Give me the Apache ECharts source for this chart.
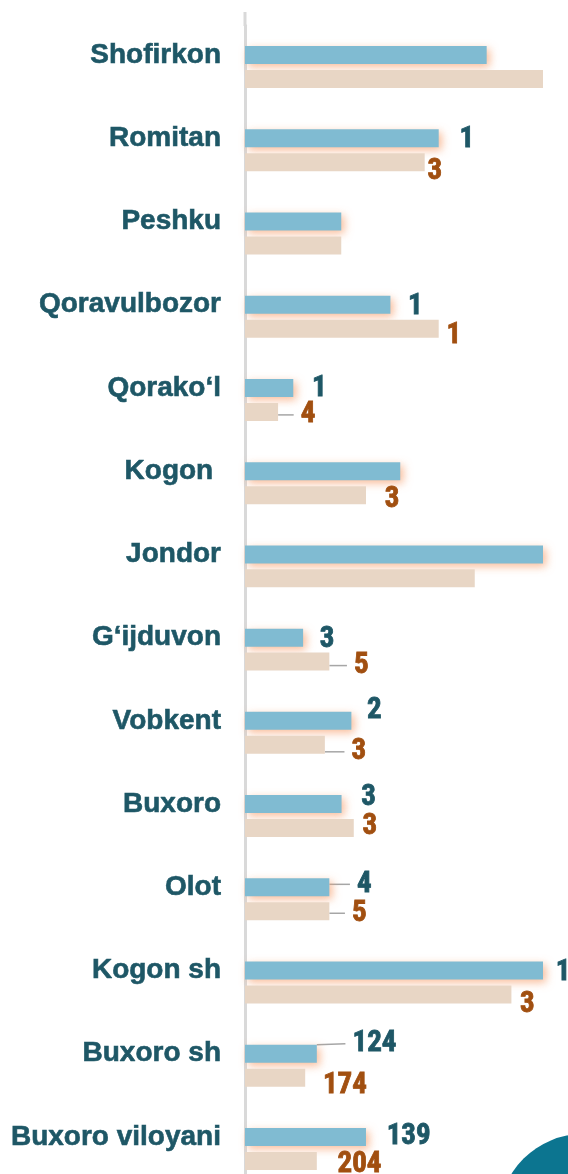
<!DOCTYPE html>
<html>
<head>
<meta charset="utf-8">
<script src="https://cdn.jsdelivr.net/npm/echarts@6/dist/echarts.min.js"></script>
<style>
  html, body { margin: 0; padding: 0; background: #ffffff; }
  #chart { width: 568px; height: 1174px; }
</style>
</head>
<body>
<div id="chart"></div>
<script>
// tumanlar (yuqoridan pastga)
var districts = ['Shofirkon', 'Romitan', 'Peshku', 'Qoravulbozor', 'Qorako\u2018l', 'Kogon ',
  'Jondor', 'G\u2018ijduvon', 'Vobkent', 'Buxoro', 'Olot', 'Kogon sh', 'Buxoro sh', 'Buxoro viloyani'];

// bar uzunliklari (eng uzuni = 100)
var blueValues = [81.1, 65.0, 32.3, 48.8, 16.2, 52.1, 100, 19.5, 35.7, 32.4, 28.3, 100, 24.1, 40.6];
var beigeValues = [100, 60.3, 32.3, 65.0, 11.1, 40.6, 77.1, 28.3, 26.8, 36.5, 28.3, 89.4, 20.2, 24.1];

// yozuvlar
var blueLabels = ['', '1', '', '1', '1', '', '', '3', '2', '3', '4', '1', '124', '139'];
var beigeLabels = ['', '3', '', '1', '4', '3', '', '5', '3', '3', '5', '3', '174', '204'];

// yozuv siljishi [dx, dy] (yozuv oldida bitta bo'sh joy bor) va chiziq
var blueShift = [[0,0],[14,1],[0,0],[11,2],[12,1],[0,0],[0,0],[10,2],[9,-10],[13,-6],[21,-3],[6,2],[29,-10],[14,0]];
var beigeShift = [[0,0],[-4,10],[0,0],[1,7],[16,3],[12,5],[0,0],[18,4],[20,7],[2,-1],[16,2],[2,10],[11,8],[14,4]];
var blueLeader = [10, 12];
var beigeLeader = [4, 7, 8, 10];

var chart = echarts.init(document.getElementById('chart'), null, { renderer: 'canvas' });

function buildData(values, leaders) {
  return values.map(function (v, i) {
    return { value: v, labelLine: { show: leaders.indexOf(i) >= 0 } };
  });
}

var numFont = '"Roboto Condensed", "Liberation Sans Narrow", Roboto, sans-serif';

var option = {
  animation: false,
  backgroundColor: '#ffffff',
  grid: { left: 245, top: 25.4, right: 25, height: 1165.2, outerBoundsMode: 'none', containLabel: false },
  xAxis: { type: 'value', min: 0, max: 100, show: false },
  yAxis: {
    type: 'category',
    data: districts,
    inverse: true,
    axisLine: { show: true, lineStyle: { color: '#d9d9d9', width: 3 } },
    axisTick: { show: false },
    axisLabel: {
      margin: 24,
      color: '#1e5766',
      fontFamily: '"Liberation Sans", Arial, sans-serif',
      fontWeight: 'bold',
      fontSize: 28,
      lineHeight: 24,
      verticalAlign: 'bottom',
      textBorderColor: '#1e5766',
      textBorderWidth: 0.6
    }
  },
  graphic: [
    { type: 'rect', shape: { x: 243.5, y: 12, width: 3, height: 14 }, style: { fill: '#d9d9d9' }, silent: true },
    { type: 'circle', shape: { cx: 583, cy: 1218, r: 84 }, style: { fill: '#0c7590' }, silent: true }
  ],
  series: [
    {
      name: 'blue',
      type: 'bar',
      barWidth: 18,
      barGap: '33%',
      data: buildData(blueValues, blueLeader),
      itemStyle: {
        color: '#80bbd2',
        shadowColor: 'rgba(246, 160, 110, 0.7)',
        shadowBlur: 9,
        shadowOffsetX: 3,
        shadowOffsetY: 3
      },
      label: {
        show: true,
        position: 'right',
        distance: 0,
        color: '#1e5766',
        fontFamily: numFont,
        fontWeight: 'bold',
        fontSize: 29,
        textBorderColor: '#1e5766',
        textBorderWidth: 0.8,
        formatter: function (p) { var t = blueLabels[p.dataIndex]; return t ? ' ' + t : ''; }
      },
      labelLine: { lineStyle: { color: '#a6a6a6', width: 1.5 } },
      labelLayout: function (p) {
        var s = blueShift[p.dataIndex];
        return { dx: s[0], dy: s[1] };
      }
    },
    {
      name: 'beige',
      type: 'bar',
      barWidth: 18,
      barGap: '33%',
      data: buildData(beigeValues, beigeLeader),
      itemStyle: { color: '#e8d6c5' },
      label: {
        show: true,
        position: 'right',
        distance: 0,
        color: '#a14f10',
        fontFamily: numFont,
        fontWeight: 'bold',
        fontSize: 29,
        textBorderColor: '#a14f10',
        textBorderWidth: 0.8,
        formatter: function (p) { var t = beigeLabels[p.dataIndex]; return t ? ' ' + t : ''; }
      },
      labelLine: { lineStyle: { color: '#a6a6a6', width: 1.5 } },
      labelLayout: function (p) {
        var s = beigeShift[p.dataIndex];
        return { dx: s[0], dy: s[1] };
      }
    }
  ]
};

chart.setOption(option);
</script>
</body>
</html>
